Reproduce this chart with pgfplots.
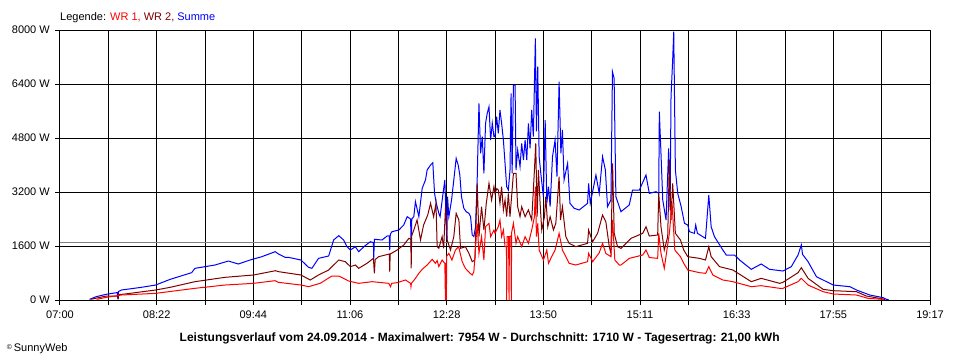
\documentclass[border=0pt]{standalone}
\usepackage{pgfplots}
\pgfplotsset{compat=1.18}
\usepackage{fontspec}
\setmainfont{Liberation Sans}
\definecolor{wrone}{RGB}{255,0,0}
\definecolor{wrtwo}{RGB}{128,0,0}
\definecolor{summe}{RGB}{0,0,255}
\definecolor{avg}{RGB}{128,128,128}
\begin{document}
\fontsize{11pt}{13pt}\selectfont
\begin{tikzpicture}
\path[use as bounding box] (-60pt,-60pt) rectangle (900pt,300pt);
\begin{axis}[
  at={(0pt,0pt)}, anchor=south west,
  scale only axis, width=870pt, height=270pt,
  xmin=0, xmax=737, ymin=0, ymax=8000,
  axis line style={black, line width=1pt},
  grid=major, grid style={black, line width=1pt},
  tick style={black, line width=1pt},
  tick align=outside, major tick length=5pt,
  xtick pos=left, ytick pos=left,
  xtick={0,40.944,81.889,122.833,163.778,204.722,245.667,286.611,327.556,368.5,409.444,450.389,491.333,532.278,573.222,614.167,655.111,696.056,737},
  xticklabels={07:00,,08:22,,09:44,,11:06,,12:28,,13:50,,15:11,,16:33,,17:55,,19:17},
  ytick={0,1600,3200,4800,6400,8000},
  yticklabels={0 W,1600 W,3200 W,4800 W,6400 W,8000 W},
  xticklabel style={font=\fontsize{11pt}{13pt}\selectfont, inner sep=0pt, yshift=-6pt},
  yticklabel style={font=\fontsize{11pt}{13pt}\selectfont, inner sep=0pt, xshift=-5pt},
  /pgf/number format/assume math mode=true,
  clip=true,
]
\addplot[avg, line width=1pt] coordinates {(0,1710) (737,1710)};
% Summe
\addplot[summe, line width=1pt] coordinates {
(25,20)(30.8,100)(39.3,170)(47.8,216)(48.5,216)(49,30)(49.5,250)(52,296)(69,376)(81,444)
(93.4,613)(111.5,810)(114.3,938)(131.3,1037)(142.6,1155)(151,1067)(161,1185)(171,1284)
(182.3,1432)(185.1,1363)(190.8,1264)(193.6,1264)(204.1,1185)(210.6,968)(213.4,938)(219,1234)
(227.6,1304)(231.8,1778)(236.1,1906)(240.3,1778)(243.1,1580)(246,1481)(250.2,1580)(253,1432)
(258.1,1600)(262.9,1728)(265.5,1700)(265.8,1234)(266.3,1800)(272.8,1778)(277.1,1896)(279,1900)
(279.3,1481)(279.8,1950)(281.3,2025)(287,2074)(291.2,2222)(294.1,2469)(297,2400)(297.5,1481)
(298,2400)(299.7,2469)(301.1,2914)(304,2469)(306.8,3309)(309.6,3556)(311,3852)(313.9,4000)
(315.8,4069)(317.3,3160)(318.5,2914)(320.9,2568)(322,2469)(324.3,3111)(326,3556)(327.1,2370)
(327.7,1778)(328.3,3062)(329.4,2469)(331.7,2963)(333.6,3556)(335.6,4198)(337.3,4000)(338.7,3704)
(340.1,3062)(342.1,2716)(344.1,2617)(346.4,2568)(347.8,2469)(349.2,1926)(350.6,1877)(352,2173)
(353.4,3556)(354.9,5827)(356.3,4346)(357.7,4839)(359.1,3753)(360.5,5235)(361.9,5531)(363.4,5728)
(364.8,4741)(366.2,5235)(367.6,4839)(368.5,4840)(369.9,5432)(371.3,4938)(372.7,5630)(374.1,5235)
(375.6,4741)(377,4049)(378.4,3358)(379.8,3259)(381.2,3852)(382.1,6123)(383,3753)(384.1,6370)
(385.5,6370)(386.3,3852)(387.7,4444)(389.7,3951)(391.1,4642)(392.6,4148)(394,4741)(395.4,4148)
(396.8,5235)(398.2,4494)(399.6,5630)(401,4840)(401.9,6420)(402.7,7753)(403.6,5000)(404.7,6914)
(405.9,4247)(407.6,3654)(409.5,3062)(411,5333)(412.4,2864)(413.8,3358)(415.2,2765)(417.2,4247)
(419.4,4741)(421,3654)(422.8,6469)(424.3,4346)(425.6,5037)(427,3556)(430,4049)
(432,2864)(435.6,2716)(439.8,2667)(446.9,2864)(447.8,3457)(449.2,2864)(454,3704)(456.8,3160)
(459.6,4247)(462,3852)(463.8,2765)(466.7,2963)(468,6765)(469.4,6568)(470.9,3062)(475.2,2617)
(482.2,2815)(485,3259)(490.8,3259)(496.4,3704)(499.2,3160)(504.9,3210)(507.2,3160)(507.7,5580)
(509.1,4346)(510.6,2963)(513.4,2370)(515.6,4494)(516.8,2667)(517.6,6025)(519,7111)(519.9,7950)
(521.3,3852)(523.3,3160)(526.2,2765)(529,2272)(531.8,2222)(533.2,2025)(537.4,1975)(538.5,2222)
(540,1975)(546.8,1827)(549.6,3111)(551.6,2173)(554.4,1877)(561.5,1481)(564.4,1333)(571.4,1333)
(575.7,1185)(585.6,909)(594,1067)(601,909)(612.4,859)(619.5,988)(625.2,1333)(628,1630)
(629,1354)(633.7,1136)(640.8,691)(655,444)(669,395)(674.7,296)(686,148)(697.3,69)(700,20)(702,10)
};
% WR 2
\addplot[wrtwo, line width=1pt] coordinates {
(26,20)(39.3,118)(49,118)(49.3,20)(49.6,160)(55,178)(81,296)(93.4,376)(114.3,543)(139.8,672)
(164,741)(182.5,868)(185.1,840)(204.1,741)(212,593)(219,741)(227.6,889)(236.1,1185)(241.7,1136)
(246,988)(250.2,1037)(253,938)(260,1086)(265.5,1234)(266.3,790)(267,1200)(270,1284)(279,1363)
(279.3,840)(279.7,1363)(285.6,1481)(291.2,1630)(295.5,1827)(297.2,1800)(297.5,938)(297.9,1900)
(299.7,2074)(302.5,2370)(305.4,1778)(308,2222)(311.5,2519)(313.9,2864)(316.5,2469)(318.5,2864)
(319.5,1580)(320.9,1531)(323.7,1877)(325,1531)(326.6,2765)(328,1778)(330.8,1481)(333.6,1877)
(335.6,2568)(337.9,2370)(339.3,1531)(343.4,1580)(346.4,1383)(349.2,1136)(351.5,1185)(353.4,3457)
(354.9,1877)(357.1,2765)(359.1,2074)(361.1,2864)(363.4,3457)(365.6,2963)(367.6,3358)(368.5,3160)
(370,3300)(371.3,3259)(372.7,2864)(374.1,3358)(375.6,2667)(377,2963)(378.4,2469)(379.8,3160)
(381.2,2469)(384.1,3753)(386.3,3753)(387.7,2765)(389.7,2469)(391.1,2765)(394,2469)(396.8,2667)
(399.6,2370)(401.9,3852)(403,4642)(404.2,2469)(405.3,3852)(406.7,2864)(408.1,2074)(410.4,2469)
(411.5,3062)(413.2,2173)(415.2,2469)(418,2074)(420,2272)(422.8,3654)(424,2370)
(425.6,2765)(428.5,1877)(431.3,1679)(436.9,1580)(446.9,1679)(447.8,2074)(451.2,1728)(455.4,1975)
(459.6,2519)(462.4,2320)(465.3,1580)(466.7,1383)(468.1,4049)(469.5,1975)(472.3,1580)(475.2,1531)
(483.7,1827)(493.6,1975)(496.4,2173)(499.2,1896)(506.3,1926)(507.2,3160)(509.1,2173)(511.9,1481)
(514.8,1877)(516.2,4148)(517.6,2370)(519,3457)(521.3,1975)(525.6,1778)(528.4,1481)(531.8,1284)
(541.7,1234)(546.8,1185)(549.6,1580)(551.6,1284)(558.7,988)(570,889)(585.6,543)(594,642)
(609.6,494)(612.4,523)(625.2,810)(628,958)(633.7,642)(646.4,316)(655,276)(674.7,247)(683,118)
(697.3,30)(699,0)
};
% WR 1
\addplot[wrone, line width=1pt] coordinates {
(31,20)(39.3,79)(52,148)(81,197)(114.3,346)(139.8,444)(164,494)(182.3,573)(185.1,523)(204.1,444)
(210.6,395)(220.4,494)(230.3,711)(236.1,711)(244.5,563)(253,494)(264.4,543)(278.5,494)(280,395)
(281,494)(285.6,514)(292.7,593)(297,494)(297.3,395)(297.7,494)(301.1,642)(304,790)(306.8,909)
(311,1037)(315.3,1205)(318,1086)(319.5,1170)(320.9,988)(323.7,1185)(326,1086)(326.5,0)
(326.9,1100)(327.3,0)(327.6,1300)(329.4,1383)(332,1185)(335,1481)(337.7,1580)(340.7,1136)
(343.4,938)(347.4,790)(349.2,741)(350.6,840)(353.4,2272)(354.9,1383)(357.1,1877)(359.1,1185)
(360.5,2173)(363.4,2272)(364.8,1877)(367.6,2074)(368.5,1975)(371.3,2173)(372.7,2370)(374.1,1877)
(375.6,2074)(377,1580)(378.2,1580)(378.4,0)(378.7,1877)(380,1877)(380.4,0)(380.7,1877)(382,1900)
(382.3,0)(382.6,2000)(384.1,2272)(386.3,1679)(387.7,1877)(391.1,1580)(394,1877)(396.8,1679)
(399.6,2074)(401.9,2469)(402.7,3358)(403.6,1877)(404.7,2272)(405.9,1481)(409.5,1185)(412.4,1481)
(413.8,1086)(416.5,1284)(419.4,1481)(422.8,1975)(425.6,1481)(428.5,1284)
(431.3,1086)(436.9,1037)(446.9,1136)(447.8,1383)(451.2,1136)(456.8,1400)(459.6,1679)(462.4,1380)
(466.7,1284)(468.1,2370)(470,1185)(473.8,1037)(475.2,1037)(482.3,1234)(493.6,1333)(496.4,1481)
(499.2,1259)(506.3,1234)(507.2,1975)(509.1,1383)(511.9,938)(516.2,1975)(518.5,2864)(520.8,1481)
(525.6,1284)(528.4,1086)(531.8,889)(541.7,810)(547,790)(549.6,988)(553,741)(561.5,593)(570,543)
(585.6,395)(594,424)(609.6,346)(612.4,346)(625.2,543)(628,642)(633.7,444)(646.4,247)(655,178)
(674.7,148)(684.5,49)(697,20)(698,0)
};
\end{axis}
\node[anchor=base west, inner sep=0pt] at (0pt,279.3pt) {Legende: \textcolor{wrone}{WR 1,} \textcolor{wrtwo}{WR 2,} \textcolor{summe}{Summe}};
\node[anchor=base, inner sep=0pt] at (419.7pt,-41.5pt) {\fontsize{12pt}{14pt}\selectfont\bfseries Leistungsverlauf vom 24.09.2014 - Maximalwert: 7954 W - Durchschnitt: 1710 W - Tagesertrag: 21,00 kWh};
\node[anchor=base west, inner sep=0pt] at (-53.3pt,-51pt) {{\fontsize{7pt}{8pt}\selectfont\raisebox{2pt}{©}}\,SunnyWeb};
\end{tikzpicture}
\end{document}
